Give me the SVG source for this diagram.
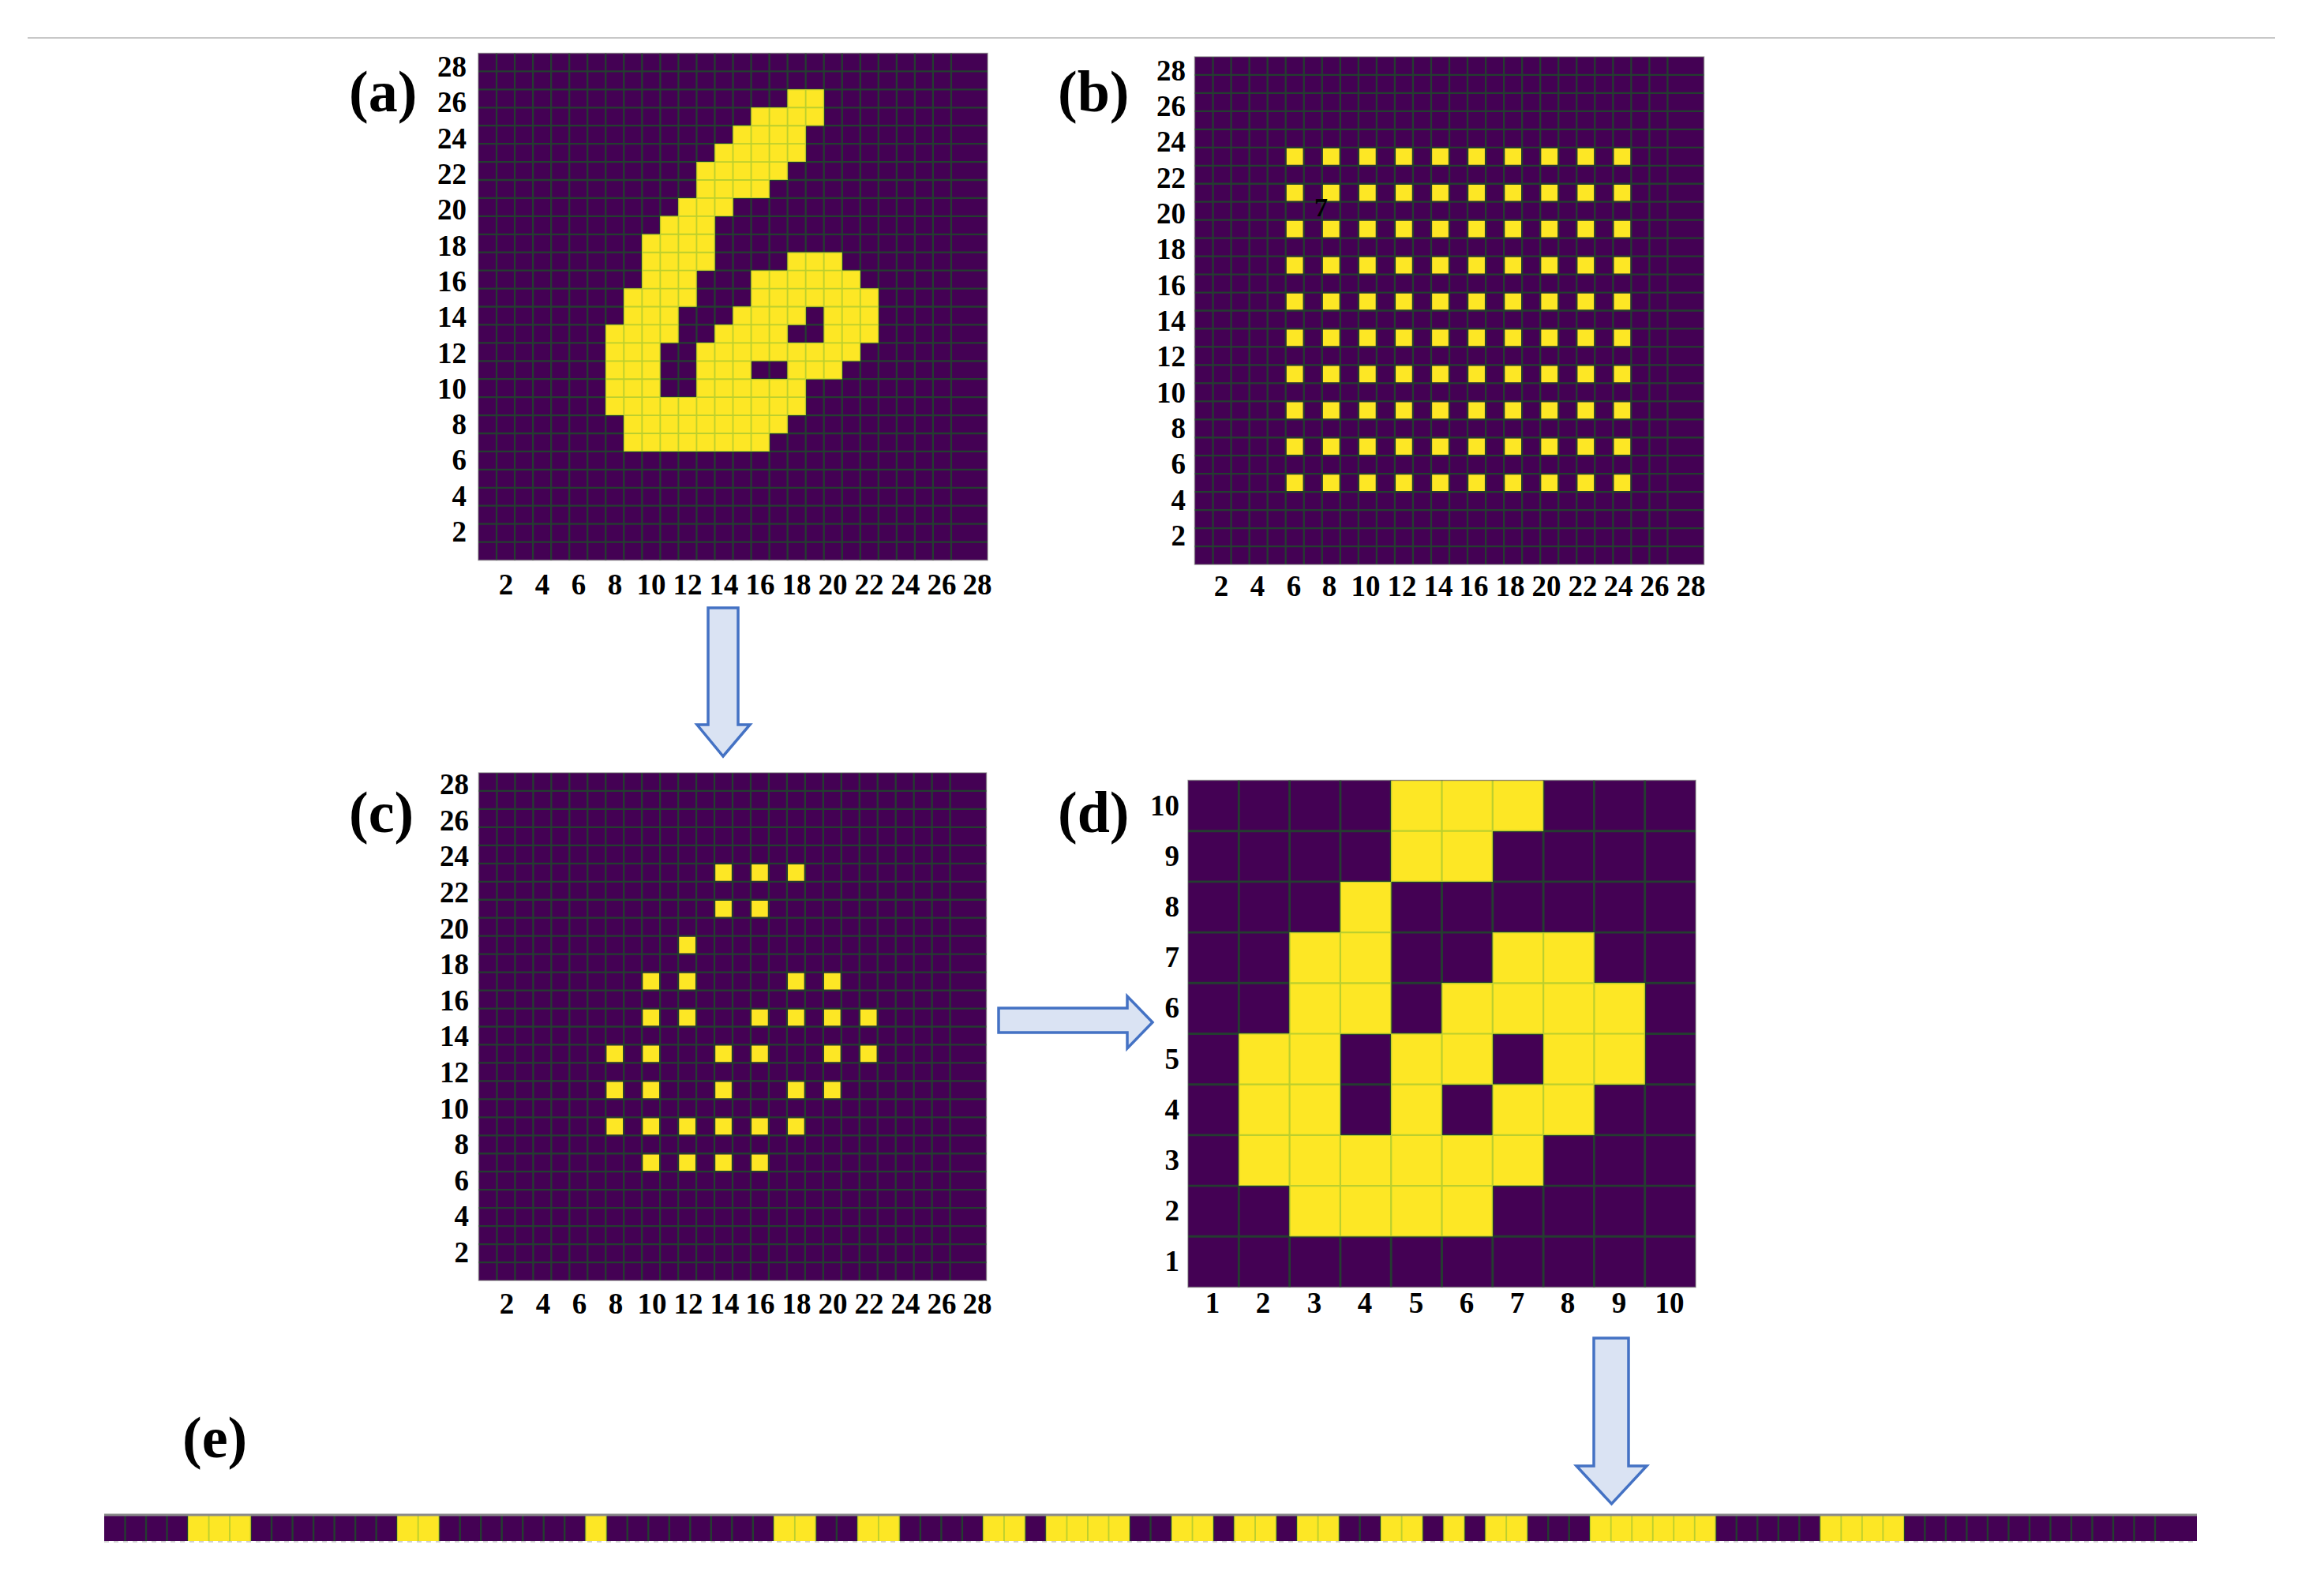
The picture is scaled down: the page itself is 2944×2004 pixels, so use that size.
<svg xmlns="http://www.w3.org/2000/svg" width="2944" height="2004" viewBox="0 0 2944 2004">
<style>
.bg{fill:#440154}
.yl{fill:#fde725}
.gd{fill:none;stroke:#243d30}
.gl{fill:none;stroke:#bccf2d}
.frame{fill:none;stroke:#6a6a6a;stroke-opacity:.6;stroke-width:1.5}
.tk{font-family:"Liberation Serif","Times New Roman",serif;font-weight:bold;font-size:37px;fill:#000}
.ty{text-anchor:end}
.tx{text-anchor:middle}
.pl{font-family:"Liberation Serif","Times New Roman",serif;font-weight:bold;font-size:74px;fill:#000}
.arr{fill:#dae3f3;stroke:#4472c4;stroke-width:3.5;stroke-linejoin:miter}
</style>
<defs>
<path id="g28" d="M1 0v28m1-28v28m1-28v28m1-28v28m1-28v28m1-28v28m1-28v28m1-28v28m1-28v28m1-28v28m1-28v28m1-28v28m1-28v28m1-28v28m1-28v28m1-28v28m1-28v28m1-28v28m1-28v28m1-28v28m1-28v28m1-28v28m1-28v28m1-28v28m1-28v28m1-28v28M0 1h28m-28 1h28m-28 1h28m-28 1h28m-28 1h28m-28 1h28m-28 1h28m-28 1h28m-28 1h28m-28 1h28m-28 1h28m-28 1h28m-28 1h28m-28 1h28m-28 1h28m-28 1h28m-28 1h28m-28 1h28m-28 1h28m-28 1h28m-28 1h28m-28 1h28m-28 1h28m-28 1h28m-28 1h28m-28 1h28m-28 1h28"/>
<path id="g10" d="M1 0v10m1-10v10m1-10v10m1-10v10m1-10v10m1-10v10m1-10v10m1-10v10m1-10v10M0 1h10m-10 1h10m-10 1h10m-10 1h10m-10 1h10m-10 1h10m-10 1h10m-10 1h10m-10 1h10"/>
<path id="g100" d="M1 0v1m1-1v1m1-1v1m1-1v1m1-1v1m1-1v1m1-1v1m1-1v1m1-1v1m1-1v1m1-1v1m1-1v1m1-1v1m1-1v1m1-1v1m1-1v1m1-1v1m1-1v1m1-1v1m1-1v1m1-1v1m1-1v1m1-1v1m1-1v1m1-1v1m1-1v1m1-1v1m1-1v1m1-1v1m1-1v1m1-1v1m1-1v1m1-1v1m1-1v1m1-1v1m1-1v1m1-1v1m1-1v1m1-1v1m1-1v1m1-1v1m1-1v1m1-1v1m1-1v1m1-1v1m1-1v1m1-1v1m1-1v1m1-1v1m1-1v1m1-1v1m1-1v1m1-1v1m1-1v1m1-1v1m1-1v1m1-1v1m1-1v1m1-1v1m1-1v1m1-1v1m1-1v1m1-1v1m1-1v1m1-1v1m1-1v1m1-1v1m1-1v1m1-1v1m1-1v1m1-1v1m1-1v1m1-1v1m1-1v1m1-1v1m1-1v1m1-1v1m1-1v1m1-1v1m1-1v1m1-1v1m1-1v1m1-1v1m1-1v1m1-1v1m1-1v1m1-1v1m1-1v1m1-1v1m1-1v1m1-1v1m1-1v1m1-1v1m1-1v1m1-1v1m1-1v1m1-1v1m1-1v1"/>
<path id="ya" d="M17 2h2v1h-2zM15 3h4v1h-4zM14 4h4v1h-4zM13 5h5v1h-5zM12 6h5v1h-5zM12 7h4v1h-4zM11 8h3v1h-3zM10 9h3v1h-3zM9 10h4v1h-4zM9 11h4v1h-4zM17 11h3v1h-3zM9 12h3v1h-3zM15 12h6v1h-6zM8 13h4v1h-4zM15 13h7v1h-7zM8 14h3v1h-3zM14 14h4v1h-4zM19 14h3v1h-3zM7 15h4v1h-4zM13 15h4v1h-4zM19 15h3v1h-3zM7 16h3v1h-3zM12 16h9v1h-9zM7 17h3v1h-3zM12 17h3v1h-3zM17 17h3v1h-3zM7 18h3v1h-3zM12 18h6v1h-6zM7 19h11v1h-11zM8 20h9v1h-9zM8 21h8v1h-8z"/>
<path id="yd" d="M4 0h3v1h-3zM4 1h2v1h-2zM3 2h1v1h-1zM2 3h2v1h-2zM6 3h2v1h-2zM2 4h2v1h-2zM5 4h4v1h-4zM1 5h2v1h-2zM4 5h2v1h-2zM7 5h2v1h-2zM1 6h2v1h-2zM4 6h1v1h-1zM6 6h2v1h-2zM1 7h6v1h-6zM2 8h4v1h-4z"/>
<path id="ye" d="M4 0h3v1h-3zM14 0h2v1h-2zM23 0h1v1h-1zM32 0h2v1h-2zM36 0h2v1h-2zM42 0h2v1h-2zM45 0h4v1h-4zM51 0h2v1h-2zM54 0h2v1h-2zM57 0h2v1h-2zM61 0h2v1h-2zM64 0h1v1h-1zM66 0h2v1h-2zM71 0h6v1h-6zM82 0h4v1h-4z"/>
<path id="brow" d="M5.05 .05h.9v.9h-.9zm2 0h.9v.9h-.9zm2 0h.9v.9h-.9zm2 0h.9v.9h-.9zm2 0h.9v.9h-.9zm2 0h.9v.9h-.9zm2 0h.9v.9h-.9zm2 0h.9v.9h-.9zm2 0h.9v.9h-.9zm2 0h.9v.9h-.9z"/>
<path id="cdots" d="M13.05 5.05h.9v.9h-.9zM15.05 5.05h.9v.9h-.9zM17.05 5.05h.9v.9h-.9zM13.05 7.05h.9v.9h-.9zM15.05 7.05h.9v.9h-.9zM11.05 9.05h.9v.9h-.9zM9.05 11.05h.9v.9h-.9zM11.05 11.05h.9v.9h-.9zM17.05 11.05h.9v.9h-.9zM19.05 11.05h.9v.9h-.9zM9.05 13.05h.9v.9h-.9zM11.05 13.05h.9v.9h-.9zM15.05 13.05h.9v.9h-.9zM17.05 13.05h.9v.9h-.9zM19.05 13.05h.9v.9h-.9zM21.05 13.05h.9v.9h-.9zM7.05 15.05h.9v.9h-.9zM9.05 15.05h.9v.9h-.9zM13.05 15.05h.9v.9h-.9zM15.05 15.05h.9v.9h-.9zM19.05 15.05h.9v.9h-.9zM21.05 15.05h.9v.9h-.9zM7.05 17.05h.9v.9h-.9zM9.05 17.05h.9v.9h-.9zM13.05 17.05h.9v.9h-.9zM17.05 17.05h.9v.9h-.9zM19.05 17.05h.9v.9h-.9zM7.05 19.05h.9v.9h-.9zM9.05 19.05h.9v.9h-.9zM11.05 19.05h.9v.9h-.9zM13.05 19.05h.9v.9h-.9zM15.05 19.05h.9v.9h-.9zM17.05 19.05h.9v.9h-.9zM9.05 21.05h.9v.9h-.9zM11.05 21.05h.9v.9h-.9zM13.05 21.05h.9v.9h-.9zM15.05 21.05h.9v.9h-.9z"/>
<clipPath id="ca"><use href="#ya"/></clipPath>
<clipPath id="cd"><use href="#yd"/></clipPath>
<clipPath id="ce"><use href="#ye"/></clipPath>
</defs>
<rect width="2944" height="2004" fill="#ffffff"/>
<line x1="35" y1="48" x2="2882" y2="48" stroke="#c8c8c8" stroke-width="2"/>

<g id="panel-a">
<g transform="translate(606 67.5) scale(23.036 22.929)">
<rect class="bg" width="28" height="28"/>
<use href="#g28" class="gd" stroke-width="0.1"/>
<use href="#ya" class="yl"/>
<use href="#g28" class="gl" stroke-width="0.08" clip-path="url(#ca)"/>
</g>
<rect class="frame" x="606" y="67.5" width="645" height="642"/>
<text class="pl" x="442" y="141">(a)</text>
<text class="tk ty"><tspan x="591" y="686">2</tspan><tspan x="591" y="641">4</tspan><tspan x="591" y="595">6</tspan><tspan x="591" y="550">8</tspan><tspan x="591" y="505">10</tspan><tspan x="591" y="460">12</tspan><tspan x="591" y="414">14</tspan><tspan x="591" y="369">16</tspan><tspan x="591" y="324">18</tspan><tspan x="591" y="278">20</tspan><tspan x="591" y="233">22</tspan><tspan x="591" y="188">24</tspan><tspan x="591" y="142">26</tspan><tspan x="591" y="97">28</tspan></text>
<text class="tk tx"><tspan x="641" y="753">2</tspan><tspan x="687" y="753">4</tspan><tspan x="733" y="753">6</tspan><tspan x="779" y="753">8</tspan><tspan x="825" y="753">10</tspan><tspan x="871" y="753">12</tspan><tspan x="917" y="753">14</tspan><tspan x="963" y="753">16</tspan><tspan x="1009" y="753">18</tspan><tspan x="1055" y="753">20</tspan><tspan x="1101" y="753">22</tspan><tspan x="1147" y="753">24</tspan><tspan x="1193" y="753">26</tspan><tspan x="1238" y="753">28</tspan></text>
</g>

<g id="panel-b">
<g transform="translate(1513.5 72) scale(23.036 22.964)">
<rect class="bg" width="28" height="28"/>
<use href="#g28" class="gd" stroke-width="0.1"/>
<g class="yl">
<use href="#brow" y="5"/><use href="#brow" y="7"/><use href="#brow" y="9"/><use href="#brow" y="11"/><use href="#brow" y="13"/><use href="#brow" y="15"/><use href="#brow" y="17"/><use href="#brow" y="19"/><use href="#brow" y="21"/><use href="#brow" y="23"/>
</g>
</g>
<rect class="frame" x="1513.5" y="72" width="645" height="643"/>
<text class="pl" x="1340" y="141">(b)</text>
<text class="tk" x="1665" y="274" style="font-size:34px">7</text>
<text class="tk ty"><tspan x="1502" y="691">2</tspan><tspan x="1502" y="646">4</tspan><tspan x="1502" y="600">6</tspan><tspan x="1502" y="555">8</tspan><tspan x="1502" y="510">10</tspan><tspan x="1502" y="464">12</tspan><tspan x="1502" y="419">14</tspan><tspan x="1502" y="374">16</tspan><tspan x="1502" y="328">18</tspan><tspan x="1502" y="283">20</tspan><tspan x="1502" y="238">22</tspan><tspan x="1502" y="192">24</tspan><tspan x="1502" y="147">26</tspan><tspan x="1502" y="102">28</tspan></text>
<text class="tk tx"><tspan x="1547" y="755">2</tspan><tspan x="1593" y="755">4</tspan><tspan x="1639" y="755">6</tspan><tspan x="1684" y="755">8</tspan><tspan x="1730" y="755">10</tspan><tspan x="1776" y="755">12</tspan><tspan x="1822" y="755">14</tspan><tspan x="1867" y="755">16</tspan><tspan x="1913" y="755">18</tspan><tspan x="1959" y="755">20</tspan><tspan x="2005" y="755">22</tspan><tspan x="2050" y="755">24</tspan><tspan x="2096" y="755">26</tspan><tspan x="2142" y="755">28</tspan></text>
</g>

<g id="panel-c">
<g transform="translate(606.5 979) scale(22.964 22.964)">
<rect class="bg" width="28" height="28"/>
<use href="#g28" class="gd" stroke-width="0.1"/>
<use href="#cdots" class="yl"/>
</g>
<rect class="frame" x="606.5" y="979" width="643" height="643"/>
<text class="pl" x="442" y="1054">(c)</text>
<text class="tk ty"><tspan x="594" y="1599">2</tspan><tspan x="594" y="1553">4</tspan><tspan x="594" y="1508">6</tspan><tspan x="594" y="1462">8</tspan><tspan x="594" y="1417">10</tspan><tspan x="594" y="1371">12</tspan><tspan x="594" y="1325">14</tspan><tspan x="594" y="1280">16</tspan><tspan x="594" y="1234">18</tspan><tspan x="594" y="1189">20</tspan><tspan x="594" y="1143">22</tspan><tspan x="594" y="1097">24</tspan><tspan x="594" y="1052">26</tspan><tspan x="594" y="1006">28</tspan></text>
<text class="tk tx"><tspan x="642" y="1664">2</tspan><tspan x="688" y="1664">4</tspan><tspan x="734" y="1664">6</tspan><tspan x="780" y="1664">8</tspan><tspan x="826" y="1664">10</tspan><tspan x="872" y="1664">12</tspan><tspan x="918" y="1664">14</tspan><tspan x="963" y="1664">16</tspan><tspan x="1009" y="1664">18</tspan><tspan x="1055" y="1664">20</tspan><tspan x="1101" y="1664">22</tspan><tspan x="1147" y="1664">24</tspan><tspan x="1193" y="1664">26</tspan><tspan x="1238" y="1664">28</tspan></text>
</g>

<g id="panel-d">
<g transform="translate(1505 988.5) scale(64.3 64.2)">
<rect class="bg" width="10" height="10"/>
<use href="#g10" class="gd" stroke-width="0.045"/>
<use href="#yd" class="yl"/>
<use href="#g10" class="gl" stroke-width="0.035" clip-path="url(#cd)"/>
</g>
<rect class="frame" x="1505" y="988.5" width="643" height="642"/>
<text class="pl" x="1340" y="1054">(d)</text>
<text class="tk ty"><tspan x="1494" y="1033">10</tspan><tspan x="1494" y="1097">9</tspan><tspan x="1494" y="1161">8</tspan><tspan x="1494" y="1225">7</tspan><tspan x="1494" y="1289">6</tspan><tspan x="1494" y="1354">5</tspan><tspan x="1494" y="1418">4</tspan><tspan x="1494" y="1482">3</tspan><tspan x="1494" y="1546">2</tspan><tspan x="1494" y="1610">1</tspan></text>
<text class="tk tx"><tspan x="1536" y="1663">1</tspan><tspan x="1600" y="1663">2</tspan><tspan x="1665" y="1663">3</tspan><tspan x="1729" y="1663">4</tspan><tspan x="1794" y="1663">5</tspan><tspan x="1858" y="1663">6</tspan><tspan x="1922" y="1663">7</tspan><tspan x="1986" y="1663">8</tspan><tspan x="2051" y="1663">9</tspan><tspan x="2115" y="1663">10</tspan></text>
</g>

<g id="panel-e">
<text class="pl" x="231" y="1846">(e)</text>
<g transform="translate(132 1919) scale(26.51 33)">
<rect class="bg" width="100" height="1"/>
<use href="#g100" class="gd" stroke-width="0.09"/>
<use href="#ye" class="yl"/>
<use href="#g100" class="gl" stroke-width="0.07" clip-path="url(#ce)"/>
</g>
<line x1="132" y1="1919" x2="2783" y2="1919" stroke="#8a8a8a" stroke-width="3"/>
<line x1="132" y1="1953" x2="2783" y2="1953" stroke="#b0b0b0" stroke-width="2" stroke-dasharray="6 6" stroke-opacity=".6"/>
</g>

<g id="connectors">
<path class="arr" d="M897 770H935V918H950L916 958L883 918H897Z"/>
<path class="arr" d="M1265 1277H1428V1262L1460 1295L1428 1328V1308H1265Z"/>
<path class="arr" d="M2019 1695H2063V1857H2086L2041.5 1905L1997 1857H2019Z"/>
</g>
</svg>
